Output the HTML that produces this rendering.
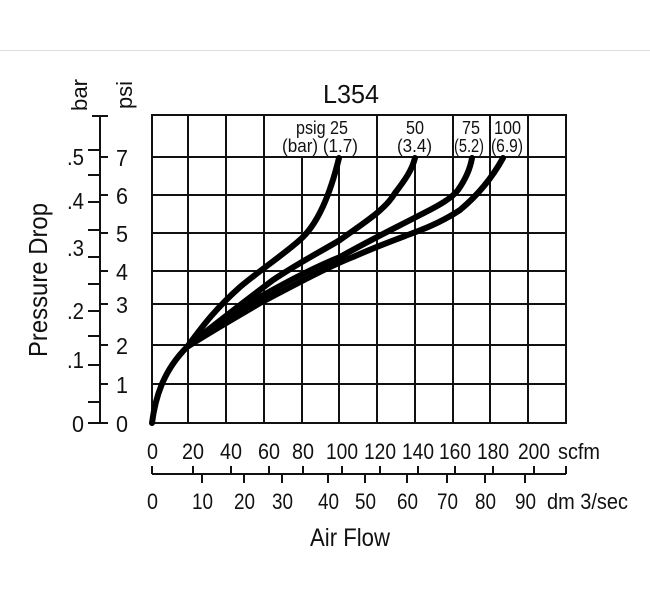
<!DOCTYPE html>
<html><head><style>
html,body{margin:0;padding:0;background:#fff;}
svg text{font-family:"Liberation Sans",sans-serif;fill:#111;}
</style></head><body>
<svg width="650" height="609" viewBox="0 0 650 609" xmlns="http://www.w3.org/2000/svg">
<line x1="0" y1="50.5" x2="650" y2="50.5" stroke="#ddd" stroke-width="1"/>
<text x="323" y="103" font-size="26" textLength="56" lengthAdjust="spacingAndGlyphs">L354</text>
<text transform="translate(87,111) rotate(-90)" font-size="22" textLength="32" lengthAdjust="spacingAndGlyphs">bar</text>
<text transform="translate(132,109) rotate(-90)" font-size="22" textLength="28" lengthAdjust="spacingAndGlyphs">psi</text>
<text transform="translate(47,357) rotate(-90)" font-size="26" textLength="154" lengthAdjust="spacingAndGlyphs">Pressure Drop</text>
<g stroke="#111" stroke-width="2" fill="none">
<rect x="152" y="115" width="414" height="308"/>
<path d="M188 115V423M226 115V423M264 115V423M302 115V423M339 115V423M377 115V423M415 115V423M453 115V423M490 115V423M528 115V423"/>
<path d="M152 157H566M152 195H566M152 233H566M152 271H566M152 304H566M152 345H566M152 384H566"/>
<path d="M100 116V423M92 116H108M100 157H108M100 195H108M100 233H108M100 271H108M100 304H108M100 345H108M100 384H108M100 423H108"/>
<path d="M88 150H100M88 175H100M88 202H100M88 230H100M88 257H100M88 284H100M88 311H100M88 336H100M88 365H100M88 402H100M88 423H100"/>
<path d="M152 474H566M152 466V474M193 466V474M231 466V474M269 466V474M303 466V474M342 466V474M380 466V474M418 466V474M455 466V474M493 466V474M534 466V474M566 466V474"/>
<path d="M202 474V483M244 474V483M282 474V483M328 474V483M365 474V483M407 474V483M447 474V483M485 474V483M525 474V483"/>
</g>
<rect x="266" y="116" width="110" height="40" fill="#fff"/>
<rect x="379" y="116" width="73" height="40" fill="#fff"/>
<rect x="454" y="116" width="35" height="40" fill="#fff"/>
<rect x="491" y="116" width="36" height="40" fill="#fff"/>
<g font-size="18" lengthAdjust="spacingAndGlyphs">
<text x="296" y="134" textLength="52" lengthAdjust="spacingAndGlyphs">psig 25</text>
<text x="282" y="152" textLength="76" lengthAdjust="spacingAndGlyphs">(bar) (1.7)</text>
<text x="406" y="134" textLength="18" lengthAdjust="spacingAndGlyphs">50</text>
<text x="397" y="152" textLength="35" lengthAdjust="spacingAndGlyphs">(3.4)</text>
<text x="462" y="134" textLength="18" lengthAdjust="spacingAndGlyphs">75</text>
<text x="454" y="152" textLength="30" lengthAdjust="spacingAndGlyphs">(5.2)</text>
<text x="494" y="134" textLength="27" lengthAdjust="spacingAndGlyphs">100</text>
<text x="491" y="152" textLength="32" lengthAdjust="spacingAndGlyphs">(6.9)</text>
</g>
<g fill="none" stroke="#000" stroke-width="6" stroke-linecap="round" stroke-linejoin="round">
<path d="M152 423C155 400 162 372 187 347C200 330 212 312 240 287C260 270 290 250 303 237C318 222 330 195 339 158"/>
<path d="M187 347C205 332 240 305 273 280C300 262 320 252 340 240C365 222 385 210 395 193C405 180 412 170 415 158"/>
<path d="M187 347C210 330 240 310 260 297C290 280 320 265 340 257C370 240 395 228 420 215C440 205 452 198 458 190C465 180 470 170 472 158"/>
<path d="M187 347C210 332 240 315 260 303C300 282 330 266 353 257C380 245 400 238 413 233C435 225 448 218 460 210C478 195 492 178 503 158"/>
</g>
<g font-size="23">
<text x="67" y="165" textLength="17" lengthAdjust="spacingAndGlyphs">.5</text>
<text x="67" y="209" textLength="17" lengthAdjust="spacingAndGlyphs">.4</text>
<text x="67" y="256" textLength="17" lengthAdjust="spacingAndGlyphs">.3</text>
<text x="67" y="319" textLength="17" lengthAdjust="spacingAndGlyphs">.2</text>
<text x="67" y="368" textLength="17" lengthAdjust="spacingAndGlyphs">.1</text>
<text x="72" y="432" textLength="12" lengthAdjust="spacingAndGlyphs">0</text>
<text x="116" y="166" textLength="12" lengthAdjust="spacingAndGlyphs">7</text>
<text x="116" y="204" textLength="12" lengthAdjust="spacingAndGlyphs">6</text>
<text x="116" y="242" textLength="12" lengthAdjust="spacingAndGlyphs">5</text>
<text x="116" y="280" textLength="12" lengthAdjust="spacingAndGlyphs">4</text>
<text x="116" y="313" textLength="12" lengthAdjust="spacingAndGlyphs">3</text>
<text x="116" y="354" textLength="12" lengthAdjust="spacingAndGlyphs">2</text>
<text x="116" y="393" textLength="12" lengthAdjust="spacingAndGlyphs">1</text>
<text x="116" y="432" textLength="12" lengthAdjust="spacingAndGlyphs">0</text>
</g>
<g font-size="22">
<text x="147" y="459" textLength="11" lengthAdjust="spacingAndGlyphs">0</text>
<text x="182" y="459" textLength="22" lengthAdjust="spacingAndGlyphs">20</text>
<text x="220" y="459" textLength="22" lengthAdjust="spacingAndGlyphs">40</text>
<text x="258" y="459" textLength="22" lengthAdjust="spacingAndGlyphs">60</text>
<text x="292" y="459" textLength="22" lengthAdjust="spacingAndGlyphs">80</text>
<text x="326" y="459" textLength="32" lengthAdjust="spacingAndGlyphs">100</text>
<text x="364" y="459" textLength="32" lengthAdjust="spacingAndGlyphs">120</text>
<text x="402" y="459" textLength="32" lengthAdjust="spacingAndGlyphs">140</text>
<text x="439" y="459" textLength="32" lengthAdjust="spacingAndGlyphs">160</text>
<text x="477" y="459" textLength="32" lengthAdjust="spacingAndGlyphs">180</text>
<text x="518" y="459" textLength="32" lengthAdjust="spacingAndGlyphs">200</text>
<text x="558" y="459" textLength="42" lengthAdjust="spacingAndGlyphs">scfm</text>
<text x="147" y="509" textLength="11" lengthAdjust="spacingAndGlyphs">0</text>
<text x="192" y="509" textLength="21" lengthAdjust="spacingAndGlyphs">10</text>
<text x="234" y="509" textLength="21" lengthAdjust="spacingAndGlyphs">20</text>
<text x="272" y="509" textLength="21" lengthAdjust="spacingAndGlyphs">30</text>
<text x="318" y="509" textLength="21" lengthAdjust="spacingAndGlyphs">40</text>
<text x="355" y="509" textLength="21" lengthAdjust="spacingAndGlyphs">50</text>
<text x="397" y="509" textLength="21" lengthAdjust="spacingAndGlyphs">60</text>
<text x="437" y="509" textLength="21" lengthAdjust="spacingAndGlyphs">70</text>
<text x="475" y="509" textLength="21" lengthAdjust="spacingAndGlyphs">80</text>
<text x="515" y="509" textLength="21" lengthAdjust="spacingAndGlyphs">90</text>
<text x="547" y="509" textLength="81" lengthAdjust="spacingAndGlyphs">dm 3/sec</text>
</g>
<text x="310" y="546" font-size="25" textLength="80" lengthAdjust="spacingAndGlyphs">Air Flow</text>
</svg>
</body></html>
